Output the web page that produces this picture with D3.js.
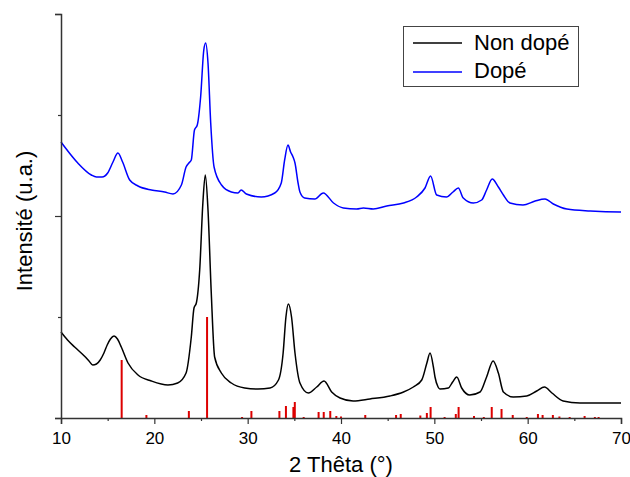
<!DOCTYPE html>
<html>
<head>
<meta charset="utf-8">
<script src="https://cdn.jsdelivr.net/npm/d3@7"></script>
<style>
  html, body { margin: 0; padding: 0; background: #fff; }
  svg text { font-family: "Liberation Sans", Arial, sans-serif; fill: #000; }
</style>
</head>
<body>
<svg id="chart" width="630" height="477"></svg>
<script>
// ---- Data ----
const xTicks = [10, 20, 30, 40, 50, 60, 70];
const xMinorTicks = [15, 25, 35, 45, 55, 65];
const yTicks = [0, 101, 202, 303, 404];
const yMajorTicks = [0, 202, 404];

const nonDopeTheta = [10.0, 10.7, 11.46, 12.5, 13.0, 13.4, 13.8, 14.2, 14.6, 14.95, 15.3, 15.68, 16.05, 16.46, 17.18, 18.25, 19.68, 21.46, 22.5, 23.4, 23.96, 24.25, 24.5, 24.86, 25.2, 25.46, 25.75, 26.1, 26.46, 27.18, 28.25, 29.68, 31.1, 32.4, 33.3, 33.8, 34.1, 34.36, 34.7, 35.07, 35.6, 36.5, 37.4, 38.18, 39.0, 39.9, 41.3, 43.1, 45.25, 46.7, 47.75, 48.65, 49.2, 49.54, 49.9, 50.07, 50.4, 50.6, 51.5, 51.96, 52.4, 52.93, 53.8, 54.9, 55.6, 56.3, 56.86, 57.4, 58.46, 59.9, 60.97, 61.8, 62.6, 63.8, 65.6, 67.4, 69.9, 70.0];
const nonDopeI = [86, 78, 71, 62, 57, 53, 54, 58, 65, 73, 79, 82, 79, 71, 55, 43, 37, 33, 35, 45, 81, 110, 115, 148, 215, 243, 208, 125, 61, 45, 35, 30, 29, 30, 38, 65, 101, 114, 101, 65, 35, 25, 31, 37, 26, 20, 17, 19, 22, 26, 31, 38, 55, 65, 51, 41, 31, 29, 30, 36, 41, 30, 23, 26, 41, 57, 45, 26, 21, 22, 27, 31, 25, 17, 15, 15, 15, 15];

const dopeTheta = [10.0, 10.4, 11.8, 13.25, 13.8, 14.4, 15.0, 15.57, 16.1, 16.6, 17.36, 18.25, 19.68, 21.1, 22.0, 22.9, 23.4, 23.7, 23.96, 24.3, 24.6, 24.96, 25.3, 25.5, 25.75, 26.04, 26.4, 27.2, 28.25, 28.96, 29.3, 29.86, 31.46, 32.9, 33.6, 33.96, 34.32, 34.6, 34.86, 35.07, 35.4, 35.6, 36.1, 37.2, 38.1, 39.2, 40.25, 41.68, 42.4, 43.46, 44.9, 46.7, 48.1, 49.0, 49.6, 50.25, 51.3, 52.0, 52.57, 53.1, 54.18, 55.07, 55.6, 56.2, 56.86, 57.4, 58.1, 59.5, 60.8, 61.86, 62.75, 64.2, 66.7, 69.9, 70.0];
const dopeI = [276, 271, 255, 243, 241, 241, 245, 256, 265, 256, 238, 232, 228, 226, 224, 233, 251, 255, 258, 288, 293, 321, 368, 375, 355, 295, 251, 233, 226, 225, 228, 224, 221, 225, 235, 258, 273, 266, 261, 255, 235, 226, 220, 219, 225, 215, 210, 209, 210, 209, 212, 215, 221, 230, 242, 223, 221, 226, 230, 220, 215, 218, 228, 239, 231, 223, 215, 213, 217, 219, 214, 209, 207, 206, 206];

const refTheta = [16.5, 19.15, 23.7, 25.65, 29.4, 30.4, 33.4, 34.1, 34.9, 35.05, 36.0, 37.6, 38.15, 38.85, 39.5, 40.0, 42.6, 45.9, 46.4, 48.5, 49.2, 49.6, 51.1, 52.3, 52.6, 54.25, 55.3, 56.15, 57.2, 58.4, 59.9, 61.1, 61.6, 62.7, 63.4, 64.5, 66.1, 67.2, 67.6];
const refI = [58, 3, 7, 101, 1, 7, 7, 12, 11, 16, 1, 6, 6, 7, 2, 1.5, 3, 3, 4, 2.5, 5, 11, 1, 4, 11, 2, 1, 11, 9, 3, 1, 4, 3, 3, 1.5, 1, 2, 1, 1];

const seriesNames = ["Non dopé", "Dopé"];
const seriesColors = ["#000000", "#0000ff"];

// ---- Layout ----
const W = 630, H = 477;
const margin = { top: 14, right: 9, bottom: 59, left: 61 };
const svg = d3.select("#chart");

const x = d3.scaleLinear().domain([10, 70]).range([margin.left, W - margin.right]);
const y = d3.scaleLinear().domain([0, 404]).range([H - margin.bottom, margin.top]);

// Reference bars
svg.append("g").selectAll("rect").data(refTheta.map((t, i) => [t, refI[i]])).join("rect")
  .attr("x", d => x(d[0]) - 1)
  .attr("width", 2)
  .attr("y", d => y(d[1]))
  .attr("height", d => y(0) - y(d[1]))
  .attr("fill", "#dd0000");

// Curves
const line = d3.line().x(d => x(d[0])).y(d => y(d[1])).curve(d3.curveMonotoneX);
const series = [
  nonDopeTheta.map((t, i) => [t, nonDopeI[i]]),
  dopeTheta.map((t, i) => [t, dopeI[i]])
];
series.forEach((s, i) => {
  svg.append("path").datum(s)
    .attr("d", line)
    .attr("fill", "none")
    .attr("stroke", seriesColors[i])
    .attr("stroke-width", 1.5)
    .attr("stroke-linejoin", "round");
});

// X axis
const axisColor = "#333";
const gx = svg.append("g").attr("transform", `translate(0,${y(0)})`);
gx.call(d3.axisBottom(x).tickValues(xTicks).tickSize(6).tickPadding(8).tickFormat(d3.format("d")));
gx.append("g").call(d3.axisBottom(x).tickValues(xMinorTicks).tickSize(3).tickFormat(""))
  .select(".domain").remove();
gx.selectAll("text").style("font-size", "17px").attr("fill", "#000");
gx.selectAll(".domain").attr("stroke", axisColor).attr("stroke-width", 1.5);
gx.selectAll(".tick line").attr("stroke", axisColor).attr("stroke-width", 1.2);

// Y axis
const gy = svg.append("g").attr("transform", `translate(${x(10)},0)`);
gy.call(d3.axisLeft(y).tickValues(yMajorTicks).tickSize(6).tickFormat(""));
gy.append("g").call(d3.axisLeft(y).tickValues(yTicks.filter(v => !yMajorTicks.includes(v))).tickSize(3).tickFormat(""))
  .select(".domain").remove();
gy.selectAll(".domain").attr("stroke", axisColor).attr("stroke-width", 1.5);
gy.selectAll(".tick line").attr("stroke", axisColor).attr("stroke-width", 1.2);

// Axis labels
svg.append("text")
  .attr("x", (x(10) + x(70)) / 2).attr("y", 471.5)
  .attr("text-anchor", "middle").style("font-size", "22px")
  .text("2 Thêta (°)");
svg.append("text")
  .attr("transform", `translate(31.5,${221}) rotate(-90)`)
  .attr("text-anchor", "middle").style("font-size", "22px")
  .text("Intensité (u.a.)");

// Legend
const lg = svg.append("g");
lg.append("rect").attr("x", 403.5).attr("y", 26.5).attr("width", 175).attr("height", 60)
  .attr("fill", "#fff").attr("stroke", "#444").attr("stroke-width", 1);
const legendY = [43, 72];
const legendBase = [49.5, 77.5];
seriesNames.forEach((n, i) => {
  lg.append("line").attr("x1", 413).attr("x2", 462).attr("y1", legendY[i]).attr("y2", legendY[i])
    .attr("stroke", seriesColors[i]).attr("stroke-width", 1.5);
  lg.append("text").attr("x", 474).attr("y", legendBase[i]).style("font-size", "22px").text(n);
});
</script>
</body>
</html>
